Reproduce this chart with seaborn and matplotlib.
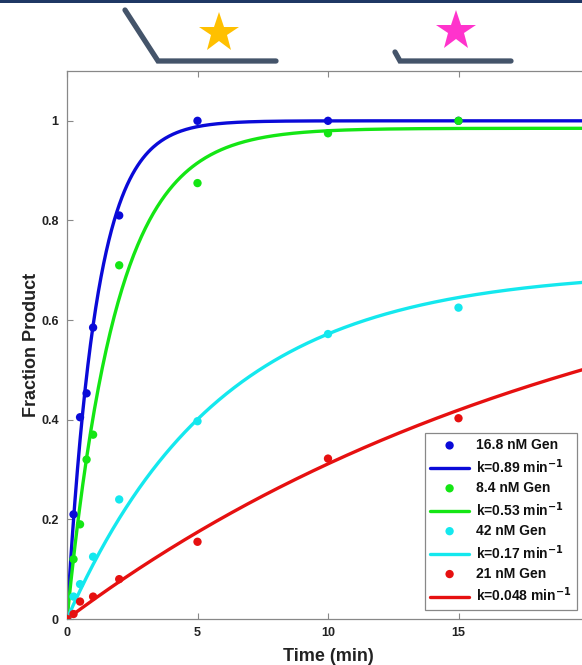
import numpy as np
import pandas as pd
import matplotlib
matplotlib.use("Agg")
import matplotlib.pyplot as plt
from matplotlib.lines import Line2D
from matplotlib.patches import Rectangle
import seaborn as sns

sns.set_theme(style="white")
plt.rcParams["font.family"] = ["Liberation Sans", "DejaVu Sans"]
plt.rcParams["font.weight"] = "bold"
plt.rcParams["mathtext.default"] = "bf"

# measured data (time in min, fraction product)
t_blue = [0, 0.25, 0.5, 0.75, 1, 2, 5, 10, 15]
y_blue = [0, 0.21, 0.405, 0.453, 0.585, 0.81, 1.0, 1.0, 1.0]
t_green = [0, 0.25, 0.5, 0.75, 1, 2, 5, 10, 15]
y_green = [0, 0.12, 0.19, 0.32, 0.37, 0.71, 0.875, 0.975, 1.0]
t_cyan = [0, 0.25, 0.5, 1, 2, 5, 10, 15]
y_cyan = [0, 0.045, 0.07, 0.125, 0.24, 0.397, 0.572, 0.625]
t_red = [0, 0.25, 0.5, 1, 2, 5, 10, 15]
y_red = [0, 0.01, 0.035, 0.045, 0.08, 0.155, 0.322, 0.403]

# fit parameters (plateau, rate)
names = ["16.8 nM Gen", "8.4 nM Gen", "42 nM Gen", "21 nM Gen"]
k_vals = [0.89, 0.53, 0.17, 0.048]
k_text = ["0.89", "0.53", "0.17", "0.048"]
plateau = [1.0, 0.985, 0.70, 0.817]
colors = ["#0a0ad8", "#14e614", "#14e8ee", "#e61010"]

times = [t_blue, t_green, t_cyan, t_red]
fracs = [y_blue, y_green, y_cyan, y_red]

fig = plt.figure(figsize=(5.82, 6.65), dpi=100)
ax = fig.add_axes([67 / 582, 1 - 619 / 665, 522 / 582, 548 / 665])

tfit = np.linspace(0, 20, 400)
for i in range(4):
    df = pd.DataFrame({"t": times[i], "y": fracs[i]})
    sns.scatterplot(data=df, x="t", y="y", color=colors[i], s=36,
                    edgecolor="none", label=names[i], ax=ax, zorder=3)
    fit = plateau[i] * (1 - np.exp(-k_vals[i] * tfit))
    sns.lineplot(x=tfit, y=fit, color=colors[i], lw=2.4,
                 label="k=" + k_text[i] + " min$^{-1}$", ax=ax, zorder=2)

ax.set_xlim(0, 20)
ax.set_ylim(0, 1.1)
ax.set_xticks([0, 5, 10, 15, 20])
ax.set_yticks([0, 0.2, 0.4, 0.6, 0.8, 1])
ax.set_yticklabels(["0", "0.2", "0.4", "0.6", "0.8", "1"])
ax.tick_params(direction="in", length=4, width=0.8, color="#888888",
               labelsize=9, labelcolor="#222222", top=True, right=True,
               bottom=True, left=True, pad=6)
for lab in ax.get_xticklabels() + ax.get_yticklabels():
    lab.set_fontweight("bold")
for sp in ax.spines.values():
    sp.set_color("#888888")
    sp.set_linewidth(0.9)
ax.set_xlabel("Time (min)", fontsize=13, fontweight="bold", color="#222222", labelpad=6)
ax.set_ylabel("Fraction Product", fontsize=13, fontweight="bold", color="#222222", labelpad=1)

leg = ax.legend(loc="lower right", bbox_to_anchor=(577 / 582, 1 - 610 / 665),
                bbox_transform=fig.transFigure, borderaxespad=0, fancybox=False,
                framealpha=1, edgecolor="#888888", fontsize=10, handlelength=2.8,
                labelspacing=0.37, handletextpad=0.5, borderpad=0.4)
leg.get_frame().set_linewidth(0.9)
for txt in leg.get_texts():
    txt.set_color("#111111")
    txt.set_fontweight("bold")

# header decoration
W, H = 582.0, 665.0
def px(x, y):
    return x / W, 1 - y / H

fig.add_artist(Rectangle((0, 1 - 3 / H), 1, 3 / H, transform=fig.transFigure,
                         color="#1f3864", lw=0))
slate = "#44546a"
x1, y1 = px(125, 10)
x2, y2 = px(158, 61)
x3, y3 = px(276, 61)
fig.add_artist(Line2D([x1, x2, x3], [y1, y2, y3], transform=fig.transFigure,
                      color=slate, lw=3.8, solid_joinstyle="miter"))
x1, y1 = px(395, 52)
x2, y2 = px(400, 61)
x3, y3 = px(511, 61)
fig.add_artist(Line2D([x1, x2, x3], [y1, y2, y3], transform=fig.transFigure,
                      color=slate, lw=3.8, solid_joinstyle="miter"))
sx, sy = px(219, 33)
fig.add_artist(Line2D([sx], [sy], transform=fig.transFigure, marker="*",
                      markersize=30, color="#ffc000", markeredgewidth=0))
sx, sy = px(456, 31)
fig.add_artist(Line2D([sx], [sy], transform=fig.transFigure, marker="*",
                      markersize=30, color="#ff33cc", markeredgewidth=0))

fig.savefig("out.png", dpi=100)
